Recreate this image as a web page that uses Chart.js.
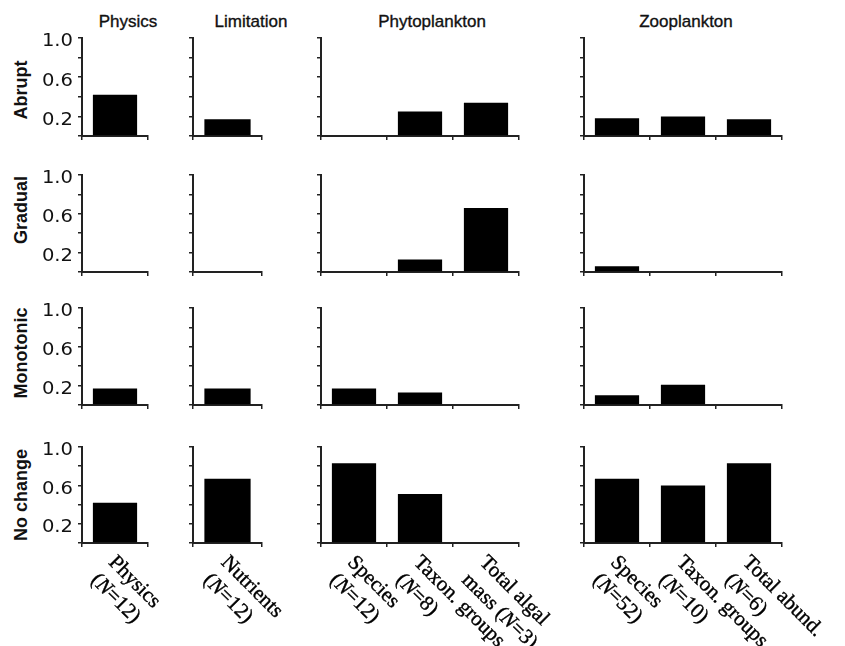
<!DOCTYPE html>
<html>
<head>
<meta charset="utf-8">
<script src="https://cdn.jsdelivr.net/npm/chart.js@4.4.1/dist/chart.umd.min.js"></script>
<style>
  html, body { margin: 0; padding: 0; background: #fff; }
  #fig { position: relative; width: 845px; height: 646px; overflow: hidden;
         font-family: "Liberation Sans", Arial, sans-serif; color: #111; }
  #fig canvas { position: absolute; }
  .title { position: absolute; font-size: 17px; transform: translate(-50%, -50%); white-space: nowrap;
           -webkit-text-stroke: 0.35px #111; }
  .rowlab { position: absolute; font-size: 18px; font-weight: bold;
            transform: translate(-50%, -50%) rotate(-90deg); white-space: nowrap; }
</style>
</head>
<body>
<div id="fig"></div>
<script>
const panelTitles = ['Physics', 'Limitation', 'Phytoplankton', 'Zooplankton'];
const rowTitles = ['Abrupt', 'Gradual', 'Monotonic', 'No change'];

const physicsLabels = [['Physics', '(N=12)']];
const limitationLabels = [['Nutrients', '(N=12)']];
const phytoLabels = [['Species', '(N=12)'], ['Taxon. groups', '(N=8)'], ['Total algal', 'mass (N=3)']];
const zooLabels = [['Species', '(N=52)'], ['Taxon. groups', '(N=10)'], ['Total abund.', '(N=6)']];

// share of cases, order: physics, nutrients, phyto (3), zoo (3)
const abrupt    = [0.42, 0.17, 0,    0.25, 0.34, 0.18, 0.20, 0.17];
const gradual   = [0,    0,    0,    0.13, 0.66, 0.06, 0,    0];
const monotonic = [0.17, 0.17, 0.17, 0.13, 0,    0.10, 0.21, 0];
const noChange  = [0.42, 0.67, 0.83, 0.51, 0,    0.67, 0.60, 0.83];

const yTickLabels = [0.2, 0.6, 1.0];

const panelLabels = [physicsLabels, limitationLabels, phytoLabels, zooLabels];
const rowValues = [abrupt, gradual, monotonic, noChange];

// layout of the grid (page pixels)
const colLeft = [82, 193, 321, 584];
const colWidth = [66, 69, 198, 198];
const rowTop = [38, 175, 308, 447];
const rowHeight = [98, 97, 97, 96];
const titleX = [128, 251, 432, 686];
const rowLabelY = [90, 210, 353, 495];

const ink = '#111';
const axisColor = '#222';

function drawRich(ctx, text, x, y) {
  // italic N inside "(N=..)"
  const parts = text.split(/(N)(?==)/);
  let cx = x;
  parts.forEach((p, i) => {
    ctx.font = (i % 2 === 1 ? 'italic ' : '') + '21px "Liberation Serif"';
    ctx.fillText(p, cx, y);
    ctx.strokeText(p, cx, y);
    cx += ctx.measureText(p).width;
  });
}

const slantedLabels = {
  id: 'slantedLabels',
  afterDraw(chart) {
    const ctx = chart.ctx;
    const xs = chart.scales.x;
    const base = chart.chartArea.bottom;
    ctx.save();
    ctx.fillStyle = '#000';
    ctx.strokeStyle = '#000';
    ctx.lineWidth = 0.4;
    ctx.textBaseline = 'top';
    ctx.textAlign = 'left';
    chart.data.labels.forEach((lines, i) => {
      const px = xs.getPixelForValue(i);
      ctx.save();
      ctx.translate(px + 4, base + 9);
      ctx.rotate(Math.PI / 4);
      lines.forEach((line, k) => drawRich(ctx, line, 0, k * 25));
      ctx.restore();
    });
    ctx.restore();
  }
};

const yLabels = {
  id: 'yLabels',
  afterDraw(chart) {
    const ctx = chart.ctx;
    const ys = chart.scales.y;
    const x0 = chart.chartArea.left - 9;
    ctx.save();
    ctx.fillStyle = ink;
    ctx.font = '17px "DejaVu Sans"';
    ctx.textAlign = 'right';
    ctx.textBaseline = 'middle';
    yTickLabels.forEach(v => {
      ctx.save();
      ctx.translate(x0, ys.getPixelForValue(v) + 4);
      ctx.scale(1.15, 1);
      ctx.fillText(v.toFixed(1), 0, 0);
      ctx.restore();
    });
    ctx.restore();
  }
};

const fig = document.getElementById('fig');

panelTitles.forEach((t, c) => {
  const d = document.createElement('div');
  d.className = 'title';
  d.textContent = t;
  d.style.left = titleX[c] + 'px';
  d.style.top = '22px';
  fig.appendChild(d);
});

rowTitles.forEach((t, r) => {
  const d = document.createElement('div');
  d.className = 'rowlab';
  d.textContent = t;
  d.style.left = '21px';
  d.style.top = rowLabelY[r] + 'px';
  fig.appendChild(d);
});

let start = 0;
panelLabels.forEach((labels, c) => {
  const n = labels.length;
  rowValues.forEach((vals, r) => {
    const leftSpace = c === 0 ? 70 : 10;
    const topPad = 14;
    const rightPad = r === 3 ? 90 : 6;
    const w = leftSpace + colWidth[c] + rightPad;
    const h = r === 3 ? 646 - (rowTop[r] - topPad) : topPad + rowHeight[r] + 8;

    const canvas = document.createElement('canvas');
    canvas.width = w;
    canvas.height = h;
    canvas.style.left = (colLeft[c] - leftSpace) + 'px';
    canvas.style.top = (rowTop[r] - topPad) + 'px';
    fig.appendChild(canvas);

    const extra = [];
    if (r === 3) extra.push(slantedLabels);
    if (c === 0) extra.push(yLabels);

    new Chart(canvas, {
      type: 'bar',
      data: {
        labels: labels,
        datasets: [{
          data: vals.slice(start, start + n),
          backgroundColor: '#000',
          borderWidth: 0,
          barPercentage: 1.0,
          categoryPercentage: 0.67
        }]
      },
      options: {
        responsive: false,
        animation: false,
        events: [],
        layout: { padding: { top: topPad, right: rightPad, left: 0, bottom: 0 } },
        plugins: { legend: { display: false }, tooltip: { enabled: false } },
        scales: {
          x: {
            offset: true,
            grid: { display: true, drawOnChartArea: false, offset: true, tickLength: 4, color: axisColor, lineWidth: 1.5 },
            border: { display: true, color: axisColor, width: 2 },
            ticks: { display: false },
            afterFit: s => { s.height = h - topPad - rowHeight[r]; }
          },
          y: {
            min: 0,
            max: 1,
            grid: { display: true, drawOnChartArea: false, tickLength: 4, color: axisColor, lineWidth: 1.5 },
            border: { display: true, color: axisColor, width: 2 },
            ticks: { display: false, stepSize: 0.2 },
            afterFit: s => { s.width = leftSpace; }
          }
        }
      },
      plugins: extra
    });
  });
  start += n;
});
</script>
</body>
</html>
